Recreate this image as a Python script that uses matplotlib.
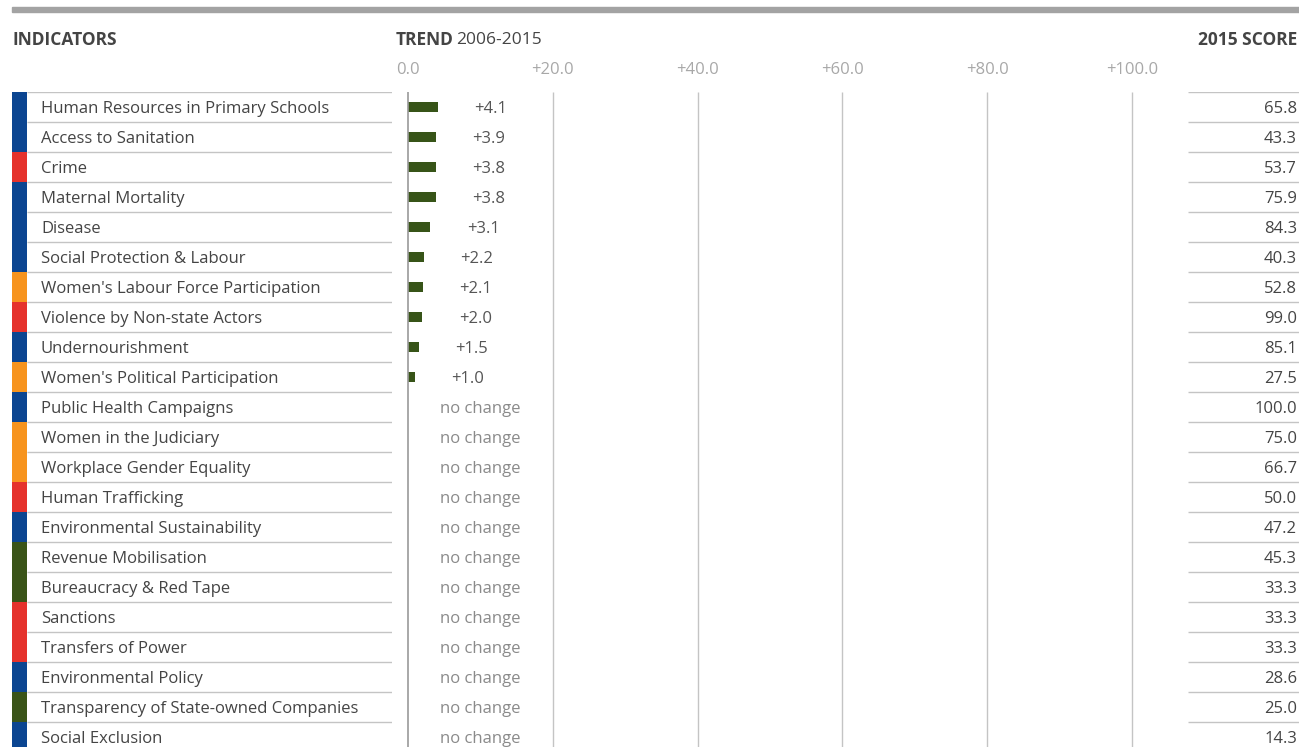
import matplotlib.pyplot as plt
from matplotlib.patches import Rectangle

plt.rcParams['font.family'] = ['Open Sans', 'DejaVu Sans']

# data
indicators = [
    "Human Resources in Primary Schools", "Access to Sanitation", "Crime",
    "Maternal Mortality", "Disease", "Social Protection & Labour",
    "Women's Labour Force Participation", "Violence by Non-state Actors",
    "Undernourishment", "Women's Political Participation",
    "Public Health Campaigns", "Women in the Judiciary",
    "Workplace Gender Equality", "Human Trafficking",
    "Environmental Sustainability", "Revenue Mobilisation",
    "Bureaucracy & Red Tape", "Sanctions", "Transfers of Power",
    "Environmental Policy", "Transparency of State-owned Companies",
    "Social Exclusion",
]
groups = [
    "blue", "blue", "red", "blue", "blue", "blue", "orange", "red", "blue",
    "orange", "blue", "orange", "orange", "red", "blue", "green", "green",
    "red", "red", "blue", "green", "blue",
]
trend = [4.1, 3.9, 3.8, 3.8, 3.1, 2.2, 2.1, 2.0, 1.5, 1.0,
         0, 0, 0, 0, 0, 0, 0, 0, 0, 0, 0, 0]
score = [65.8, 43.3, 53.7, 75.9, 84.3, 40.3, 52.8, 99.0, 85.1, 27.5,
         100.0, 75.0, 66.7, 50.0, 47.2, 45.3, 33.3, 33.3, 33.3, 28.6,
         25.0, 14.3]
tick_vals = [0, 20, 40, 60, 80, 100]
tick_labels = ["0.0", "+20.0", "+40.0", "+60.0", "+80.0", "+100.0"]

group_colors = {"blue": "#0b4591", "red": "#e5322c",
                "orange": "#f7941e", "green": "#3a5418"}
bar_color = "#375418"
text_color = "#444444"
line_color = "#c4c4c4"

W, H = 1299, 747
fig = plt.figure(figsize=(W / 100, H / 100), dpi=100)


def px_axes(x0, x1, y0, y1):
    return fig.add_axes([x0 / W, 1 - y1 / H, (x1 - x0) / W, (y1 - y0) / H])


n = len(indicators)
ybot = (H - 92) / 30 - 0.5
rows = range(n)
dy = 0.07  # text baseline nudge

# top rule
fig.patches.append(Rectangle((12 / W, 1 - 12 / H), (W - 12) / W, 5 / H,
                             transform=fig.transFigure, color="#a3a3a3"))

# headers
hy = 1 - 40 / H
fig.text(12 / W, hy, "INDICATORS", fontsize=12.5, fontweight="bold",
         color=text_color, va="center", ha="left")
fig.text(396 / W, hy, "TREND", fontsize=12.5, fontweight="bold",
         color=text_color, va="center", ha="left")
fig.text(456 / W, hy, "2006-2015", fontsize=12.5,
         color=text_color, va="center", ha="left")
fig.text(1297 / W, hy, "2015 SCORE", fontsize=12.5, fontweight="bold",
         color=text_color, va="center", ha="right")

# left column: indicator names
axl = px_axes(12, 392, 92, H)
axl.set_xlim(0, 380)
axl.set_ylim(ybot, -0.5)
axl.axis("off")
for i in rows:
    axl.add_patch(Rectangle((0, i - 0.5), 15, 1.0,
                            color=group_colors[groups[i]], lw=0))
    axl.text(29, i + dy, indicators[i], fontsize=12, color=text_color,
             va="center", ha="left")
axl.hlines([i - 0.5 for i in range(n + 1)], 15, 380, color=line_color, lw=1)

# trend column
axt = px_axes(408, 1132, 92, H)
axt.set_xlim(0, 100)
axt.set_ylim(ybot, -0.5)
axt.axis("off")
axt.vlines(tick_vals[1:], -0.5, ybot, color=line_color, lw=1, clip_on=False)
axt.vlines([0], -0.5, ybot, color="#9a9a9a", lw=1.2, clip_on=False)
axt.barh(list(rows), trend, height=0.33, color=bar_color)
for i in rows:
    if trend[i] > 0:
        axt.text(trend[i] + 5, i + dy, f"+{trend[i]:.1f}", fontsize=12,
                 color="#555555", va="center", ha="left")
    else:
        axt.text(4.4, i + dy, "no change", fontsize=12, color="#8a8a8a",
                 va="center", ha="left")
for v, lab in zip(tick_vals, tick_labels):
    axt.text(v, -1.23, lab, fontsize=12, color="#a8a8a8",
             va="center", ha="center", clip_on=False)

# score column
axs = px_axes(1188, W, 92, H)
axs.set_xlim(0, W - 1188)
axs.set_ylim(ybot, -0.5)
axs.axis("off")
axs.hlines([i - 0.5 for i in range(n + 1)], 0, W - 1188, color=line_color, lw=1)
for i in rows:
    axs.text(W - 1188 - 2, i + dy, f"{score[i]:.1f}", fontsize=12,
             color=text_color, va="center", ha="right")

fig.savefig("out.png", dpi=100)
